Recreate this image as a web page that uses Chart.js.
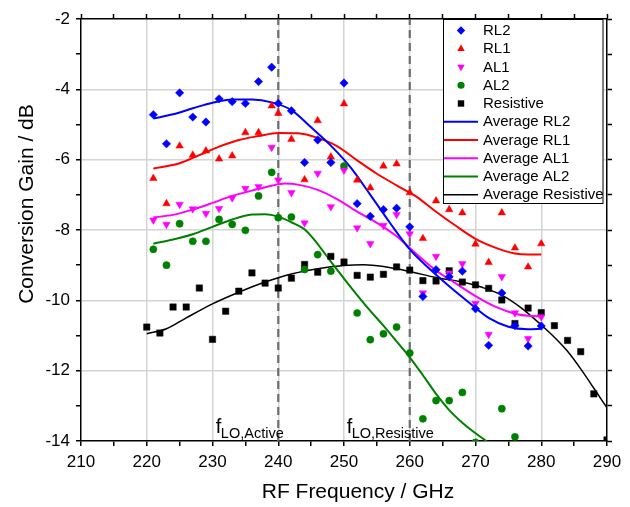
<!DOCTYPE html>
<html><head><meta charset="utf-8">
<script src="https://cdn.jsdelivr.net/npm/chart.js"></script>
<style>html,body{margin:0;padding:0;background:#fff}#wrap{width:630px;height:507px}</style>
</head><body><div id="wrap"><canvas id="c" width="630" height="507"></canvas></div>
<script>
// ---------- data ----------
const activeFreq = [221,223,225,227,229,231,233,235,237,239,240,242,244,246,248,250,252,254,256,258,260,262,264,266,268,270,272,274,276,278,280];
const rl2 = [-4.72,-5.55,-4.10,-4.79,-4.93,-4.27,-4.35,-4.40,-3.78,-3.37,-4.40,-4.61,-6.08,-5.44,-6.08,-3.82,-7.25,-7.61,-7.42,-7.38,-7.91,-9.89,-9.13,-9.33,-9.17,-10.24,-11.28,-9.79,-10.72,-11.30,-10.73];
const rl1 = [-6.53,-7.25,-5.61,-5.87,-5.75,-5.98,-5.89,-5.23,-5.23,-4.47,-4.68,-5.42,-6.57,-4.89,-5.92,-4.41,-6.58,-6.80,-6.18,-6.12,-6.94,-8.24,-7.17,-7.42,-7.51,-8.40,-8.92,-7.51,-8.51,-9.05,-8.39];
const al1 = [-7.72,-7.84,-7.27,-7.40,-7.53,-7.39,-7.09,-6.82,-6.77,-5.65,-6.58,-6.94,-7.80,-6.39,-7.34,-6.30,-7.94,-8.39,-7.87,-7.56,-8.11,-9.79,-8.75,-9.23,-8.96,-10.09,-10.97,-9.33,-10.36,-11.09,-10.47];
const al2 = [-8.55,-9.00,-7.82,-8.32,-8.32,-7.70,-7.84,-8.01,-7.03,-6.36,-7.65,-7.63,-9.12,-8.70,-9.17,-6.18,-10.36,-11.12,-10.95,-10.76,-11.50,-13.37,-12.85,-12.85,-12.62,-14.04,null,-13.08,-13.88,null,null];
const resFreq = [220,222,224,226,228,230,232,234,236,238,240,242,244,246,248,250,252,254,256,258,260,262,264,266,268,270,272,274,276,278,280,282,284,286,288,290];
const resistive = [-10.76,-10.93,-10.19,-10.19,-9.65,-11.11,-10.31,-9.74,-9.22,-9.51,-9.65,-9.37,-8.98,-9.20,-8.75,-8.91,-9.29,-9.34,-9.26,-9.05,-9.14,-9.44,-9.45,-9.16,-9.48,-9.56,-9.66,-9.99,-10.66,-10.22,-10.35,-10.72,-11.14,-11.46,-12.66,-13.97];

const avgRL2Freq = [221,224,227,230,233,236,239,242,245,248,251,254,257,260,263,266,269,272,275,278,280];
const avgRL2 = [-4.83,-4.71,-4.54,-4.38,-4.29,-4.29,-4.37,-4.59,-5.08,-5.60,-6.22,-7.00,-7.80,-8.55,-9.10,-9.60,-10.06,-10.50,-10.75,-10.82,-10.81];
const avgRL1Freq = [221,225,228,231,234,237,240,243,246,249,252,255,258,261,264,267,270,273,276,278,280];
const avgRL1 = [-6.25,-6.10,-5.87,-5.63,-5.44,-5.33,-5.24,-5.25,-5.38,-5.62,-6.02,-6.40,-6.73,-7.05,-7.48,-7.88,-8.25,-8.50,-8.67,-8.70,-8.70];
const avgAL1Freq = [221,224,227,230,233,236,239,241,243,246,249,252,255,258,261,264,267,270,273,276,278,280];
const avgAL1 = [-7.64,-7.57,-7.42,-7.23,-7.03,-6.88,-6.74,-6.68,-6.71,-6.86,-7.13,-7.48,-7.80,-8.18,-8.68,-9.15,-9.52,-9.88,-10.18,-10.38,-10.44,-10.46];
const avgAL2Freq = [221,224,227,230,233,236,238,240,242,244,246,248,250,252,254,256,258,260,262,264,266,268,270,272,273];
const avgAL2 = [-8.39,-8.27,-8.12,-7.91,-7.70,-7.56,-7.55,-7.62,-7.78,-7.98,-8.40,-8.90,-9.38,-9.85,-10.30,-10.72,-11.17,-11.62,-12.13,-12.66,-13.12,-13.48,-13.78,-14.05,-14.20];
const avgResFreq = [220,223,226,230,234,238,242,246,250,253,256,260,264,268,271,274,277,280,282,284,286,288,290];
const avgRes = [-10.95,-10.81,-10.50,-10.10,-9.77,-9.48,-9.25,-9.10,-9.01,-8.99,-9.04,-9.18,-9.35,-9.48,-9.63,-9.85,-10.22,-10.70,-11.05,-11.45,-11.95,-12.50,-13.06];

const loFreq = [240, 260];
const loLabels = ['Active', 'Resistive'];
const loLabelFreq = [230.5, 250.4];
const xTicksMin = 210, xTicksMax = 290, yMin = -14, yMax = -2;
const legendLabels = ['RL2','RL1','AL1','AL2','Resistive','Average RL2','Average RL1','Average AL1','Average AL2','Average Resistive'];

// ---------- helpers ----------
const FONT = "'Liberation Sans', Arial, sans-serif";
function pts(xs, ys){ return xs.map((x,i)=>({x:x, y:ys[i]})).filter(p=>p.y!==null); }
function scatterDs(label, xs, ys, color, style, rot, r){
  return {label, data: pts(xs, ys), showLine:false, pointStyle:style, pointRotation:rot||0,
    pointRadius:r, pointHoverRadius:r, backgroundColor:color, borderColor:color, pointBorderWidth:0.5};
}
function lineDs(label, xs, ys, color, w){
  return {label, data: pts(xs, ys), showLine:true, pointRadius:0, borderColor:color, backgroundColor:color,
    borderWidth:w, cubicInterpolationMode:'monotone', fill:false};
}
const blue='#0000ff', red='#ff0000', mag='#ff00ff', green='#008000', black='#000000';

const datasets = [
  scatterDs('RL2', activeFreq, rl2, blue, 'rectRot', 0, 4.2),
  scatterDs('RL1', activeFreq, rl1, red, 'triangle', 0, 4.3),
  scatterDs('AL1', activeFreq, al1, mag, 'triangle', 180, 4.3),
  scatterDs('AL2', activeFreq, al2, green, 'circle', 0, 3.6),
  scatterDs('Resistive', resFreq, resistive, black, 'rect', 0, 4.5),
  lineDs('Average RL2', avgRL2Freq, avgRL2, blue, 2),
  lineDs('Average RL1', avgRL1Freq, avgRL1, red, 2),
  lineDs('Average AL1', avgAL1Freq, avgAL1, mag, 2),
  lineDs('Average AL2', avgAL2Freq, avgAL2, green, 2),
  lineDs('Average Resistive', avgResFreq, avgRes, black, 1.5),
];
loFreq.forEach(f => datasets.push({label:'lo', data:[{x:f,y:yMin},{x:f,y:yMax}], showLine:true, pointRadius:0,
  borderColor:'#6e6e6e', borderWidth:2.2, borderDash:[8,5], fill:false}));

// ---------- plugins ----------
const decor = {
  id:'decor',
  afterDraw(chart){
    const ctx = chart.ctx, xs = chart.scales.x, ca = chart.chartArea;
    ctx.save();
    ctx.fillStyle = '#000';
    // f_LO labels
    loLabels.forEach((lab,i)=>{
      const x = xs.getPixelForValue(loLabelFreq[i]);
      const yb = ca.bottom - 8;
      ctx.font = '20px ' + FONT; ctx.textAlign='left'; ctx.textBaseline='alphabetic';
      ctx.fillText('f', x, yb);
      const fw = ctx.measureText('f').width;
      ctx.font = '14.5px ' + FONT;
      ctx.fillText('LO,' + lab, x + fw - 0.5, yb + 5);
    });
    // axis titles
    ctx.font = '21px ' + FONT; ctx.textAlign='center'; ctx.textBaseline='middle';
    ctx.fillText('RF Frequency / GHz', 358, 492);
    ctx.save(); ctx.translate(27, 204); ctx.rotate(-Math.PI/2);
    ctx.fillText('Conversion Gain / dB', 0, 0); ctx.restore();
    // legend
    const L = 443, T = ca.top, R = 603.5, B = 203.5;
    ctx.fillStyle = '#fff'; ctx.fillRect(L, T, R-L, B-T);
    ctx.strokeStyle = '#000'; ctx.lineWidth = 1; ctx.strokeRect(L+0.5, T+0.5, R-L-1, B-T-0.5);
    const y0 = 30.5, dy = 18.25, mx = 461, tx = 483;
    chart.data.datasets.slice(0,10).forEach((ds,i)=>{
      const y = y0 + i*dy;
      ctx.fillStyle = ds.borderColor; ctx.strokeStyle = ds.borderColor;
      if (i < 5) {
        const st = ds.pointStyle, rot = ds.pointRotation;
        ctx.beginPath();
        if (st==='rectRot'){ const r=4.2; ctx.moveTo(mx,y-r); ctx.lineTo(mx+r,y); ctx.lineTo(mx,y+r); ctx.lineTo(mx-r,y); ctx.closePath(); }
        else if (st==='triangle' && rot===180){ const r=4.3; ctx.moveTo(mx-r*0.87,y-r*0.5); ctx.lineTo(mx+r*0.87,y-r*0.5); ctx.lineTo(mx,y+r); ctx.closePath(); }
        else if (st==='triangle'){ const r=4.3; ctx.moveTo(mx-r*0.87,y+r*0.5); ctx.lineTo(mx+r*0.87,y+r*0.5); ctx.lineTo(mx,y-r); ctx.closePath(); }
        else if (st==='circle'){ ctx.arc(mx,y,3.6,0,Math.PI*2); }
        else { const s=3.2; ctx.rect(mx-s,y-s,2*s,2*s); }
        ctx.fill();
      } else {
        ctx.lineWidth = ds.borderWidth; ctx.beginPath(); ctx.moveTo(444,y); ctx.lineTo(478,y); ctx.stroke();
      }
      ctx.fillStyle = '#000'; ctx.font = '15px ' + FONT; ctx.textAlign='left'; ctx.textBaseline='middle';
      ctx.fillText(legendLabels[i], tx, y+0.5);
    });
    ctx.restore();
  }
};

const gridCol = (lo, hi, step) => c => (c.tick && Math.abs(c.tick.value % step) < 1e-9 && c.tick.value > lo && c.tick.value < hi) ? '#d4d4d4' : 'rgba(0,0,0,0)';
const tickFont = {family: FONT, size: 17};

new Chart(document.getElementById('c'), {
  type:'scatter',
  data:{datasets},
  options:{
    responsive:false, animation:false, devicePixelRatio:1,
    layout:{padding:0, autoPadding:false},
    plugins:{legend:{display:false}, tooltip:{enabled:false}},
    scales:{
      x:{type:'linear', position:'bottom', min:xTicksMin, max:xTicksMax,
        ticks:{stepSize:5, autoSkip:false, maxRotation:0, minRotation:0, padding:6, color:'#000', font:tickFont,
          callback:v => (v%10===0 ? String(v) : '')},
        grid:{color:gridCol(xTicksMin,xTicksMax,10), lineWidth:1.5, tickColor:'#000', tickLength:5, tickWidth:1.5},
        border:{color:'#000', width:1.5},
        afterFit:s=>{s.height=66;}},
      x2:{type:'linear', position:'top', min:xTicksMin, max:xTicksMax,
        ticks:{stepSize:5, autoSkip:false, maxRotation:0, callback:()=>''},
        grid:{drawOnChartArea:false, tickColor:'#000', tickLength:5, tickWidth:1.5},
        border:{color:'#000', width:1.5},
        afterFit:s=>{s.height=19;}},
      y:{type:'linear', position:'left', min:yMin, max:yMax,
        ticks:{stepSize:1, autoSkip:false, padding:6, color:'#000', font:tickFont,
          callback:v => (Math.abs(v%2)<1e-9 ? String(v) : '')},
        grid:{color:gridCol(yMin,yMax,2), lineWidth:1.5, tickColor:'#000', tickLength:5, tickWidth:1.5},
        border:{color:'#000', width:1.5},
        afterFit:s=>{s.width=81;}},
      y2:{type:'linear', position:'right', min:yMin, max:yMax,
        ticks:{stepSize:1, autoSkip:false, callback:()=>''},
        grid:{drawOnChartArea:false, tickColor:'#000', tickLength:5, tickWidth:1.5},
        border:{color:'#000', width:1.5},
        afterFit:s=>{s.width=23;}}
    }
  },
  plugins:[decor]
});
</script></body></html>
